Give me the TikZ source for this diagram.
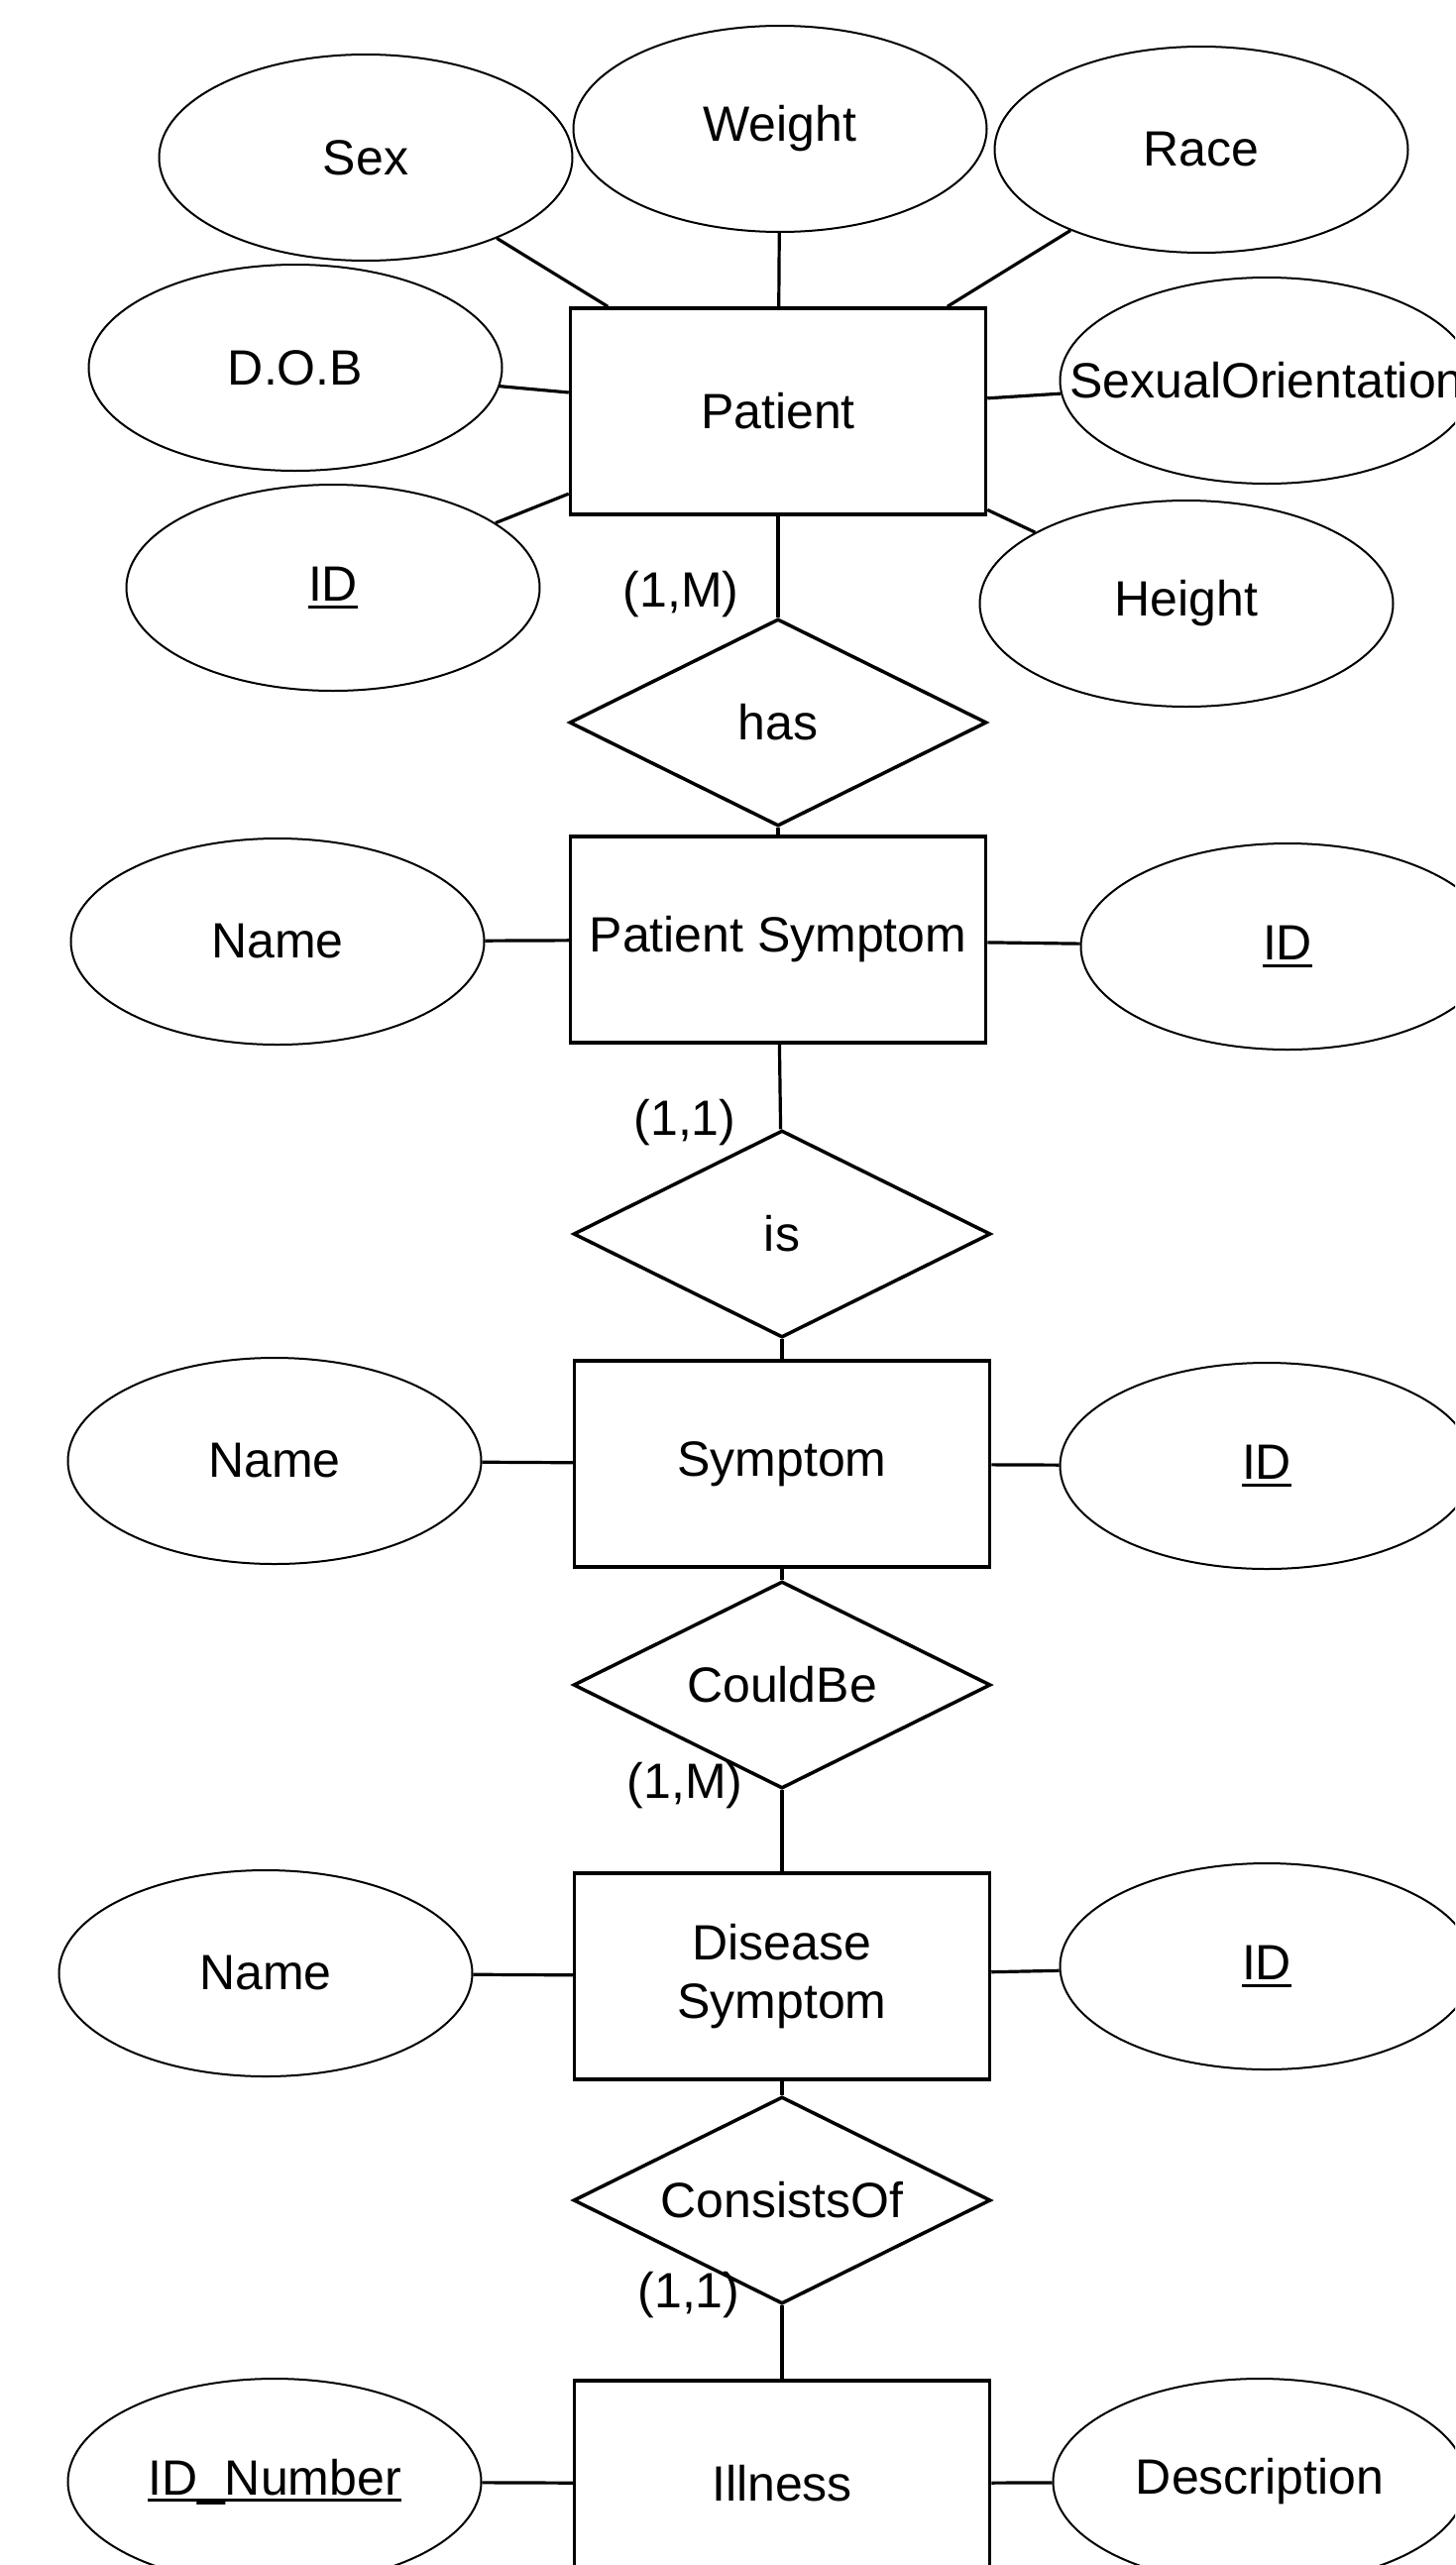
\documentclass[tikz,border=0pt]{standalone}
\usepackage{fontspec}
\setmainfont{Liberation Sans}
\usetikzlibrary{shapes.geometric}
\newcommand{\ulx}[1]{\setbox0=\hbox{#1}\rlap{\rule[-0.14em]{\wd0}{0.06em}}\box0}
\begin{document}
\begin{tikzpicture}[x=1pt,y=-1pt,
  every node/.style={font=\fontsize{50}{59}\selectfont, inner sep=0pt},
  ent/.style={draw, rectangle, line width=3.5pt, minimum width=419pt, minimum height=208pt, align=center},
  attr/.style={draw, ellipse, line width=2pt, minimum width=417pt, minimum height=208pt},
  rel/.style={draw, diamond, aspect=2, line width=3.5pt, minimum width=421pt, minimum height=209pt},
  card/.style={},
  conn/.style={line width=3.2pt}]
\useasboundingbox (0,0) rectangle (1468,2588);
\fill[white] (0,0) rectangle (1468,2588);
\clip (0,0) rectangle (1468,2588);

% entities
\node[ent] (patient) at (785,415) {Patient};
\node[ent] (psym) at (785,948) {Patient Symptom};
\node[ent] (sym) at (789,1477) {Symptom};
\node[ent] (dsym) at (789,1994) {Disease\\Symptom};
\node[ent] (ill) at (789,2506) {Illness};

% relationships
\node[rel] (has) at (785,729) {\makebox[0pt][c]{has}};
\node[rel] (is) at (789,1245) {\makebox[0pt][c]{is}};
\node[rel] (could) at (789,1700) {\makebox[0pt][c]{CouldBe}};
\node[rel] (cons) at (789,2220) {\makebox[0pt][c]{ConsistsOf}};

% attributes of Patient
\node[attr] (sex) at (369,159) {Sex};
\node[attr] (weight) at (787,130) {Weight};
\node[attr] (race) at (1212,151) {Race};
\node[attr] (dob) at (298,371) {D.O.B};
\node[attr] (so) at (1278,384) {\makebox[0pt][c]{SexualOrientation}};
\node[attr] (pid) at (336,593) {\ulx{ID}};
\node[attr] (height) at (1197,609) {Height};

% attributes of Patient Symptom
\node[attr] (psname) at (280,950) {Name};
\node[attr] (psid) at (1299,955) {\ulx{ID}};

% attributes of Symptom
\node[attr] (sname) at (277,1474) {Name};
\node[attr] (sid) at (1278,1479) {\ulx{ID}};

% attributes of Disease Symptom
\node[attr] (dsname) at (268,1991) {Name};
\node[attr] (dsid) at (1278,1984) {\ulx{ID}};

% attributes of Illness
\node[attr] (idnum) at (277,2504) {\ulx{ID\_Number}};
\node[attr] (desc) at (1271,2504) {Description};

% cardinalities
\node[card] (c1) at (687,600) {(1,M)};
\node[card] (c2) at (691,1133) {(1,1)};
\node[card] (c3) at (691,1802) {(1,M)};
\node[card] (c4) at (695,2316) {(1,1)};

% connectors
\draw[conn] (sex) -- (patient);
\draw[conn] (weight) -- (patient);
\draw[conn] (race) -- (patient);
\draw[conn] (dob) -- (patient);
\draw[conn] (so) -- (patient);
\draw[conn] (pid) -- (patient);
\draw[conn] (height) -- (patient);
\draw[conn] (patient) -- (has);
\draw[conn] (has) -- (psym);
\draw[conn] (psname) -- (psym);
\draw[conn] (psid) -- (psym);
\draw[conn] (psym) -- (is);
\draw[conn] (is) -- (sym);
\draw[conn] (sname) -- (sym);
\draw[conn] (sid) -- (sym);
\draw[conn] (sym) -- (could);
\draw[conn] (could) -- (dsym);
\draw[conn] (dsname) -- (dsym);
\draw[conn] (dsid) -- (dsym);
\draw[conn] (dsym) -- (cons);
\draw[conn] (cons) -- (ill);
\draw[conn] (idnum) -- (ill);
\draw[conn] (desc) -- (ill);
\end{tikzpicture}
\end{document}
